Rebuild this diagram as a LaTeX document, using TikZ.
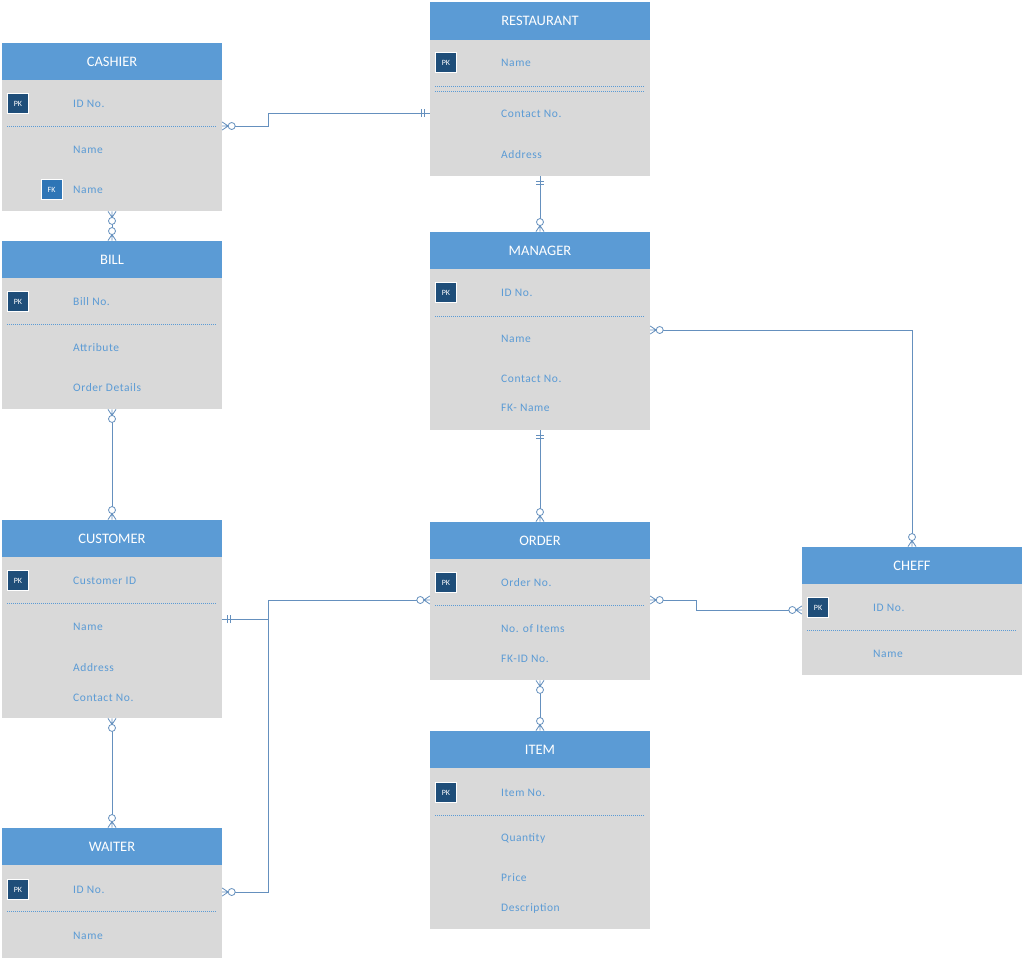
\documentclass[tikz,border=0pt]{standalone}
\usepackage{fontspec}
\setmainfont{Carlito}
\newfontfamily\attrfont{Carlito}[LetterSpace=5]
\usetikzlibrary{positioning}
\usetikzlibrary{arrows.meta}
\definecolor{hdrblue}{HTML}{5B9BD5}
\definecolor{bodygray}{HTML}{D9D9D9}
\definecolor{keynavy}{HTML}{1F4E79}
\definecolor{fkblue}{HTML}{2E75B6}
\definecolor{relline}{HTML}{6590BE}

% zero or many
\pgfdeclarearrow{
  name = crowopt,
  setup code = {
    \pgfarrowssettipend{0pt}
    \pgfarrowssetlineend{-13pt}
    \pgfarrowssetbackend{-13pt}
    \pgfarrowshullpoint{0pt}{4pt}
    \pgfarrowshullpoint{0pt}{-4pt}
    \pgfarrowshullpoint{-13pt}{0pt}
  },
  drawing code = {
    \pgfpathmoveto{\pgfpoint{0pt}{4pt}}
    \pgfpathlineto{\pgfpoint{-6pt}{0pt}}
    \pgfpathlineto{\pgfpoint{0pt}{-4pt}}
    \pgfpathmoveto{\pgfpoint{0pt}{0pt}}
    \pgfpathlineto{\pgfpoint{-6pt}{0pt}}
    \pgfusepathqstroke
    \pgfpathcircle{\pgfpoint{-9.5pt}{0pt}}{3.5pt}
    \pgfsetfillcolor{white}
    \pgfusepathqfillstroke
  }
}
% one and only one
\pgfdeclarearrow{
  name = onemand,
  setup code = {
    \pgfarrowssettipend{0pt}
    \pgfarrowssetlineend{0pt}
    \pgfarrowssetbackend{-9pt}
    \pgfarrowshullpoint{0pt}{4pt}
    \pgfarrowshullpoint{-9pt}{4pt}
    \pgfarrowshullpoint{-9pt}{-4pt}
    \pgfarrowshullpoint{0pt}{-4pt}
  },
  drawing code = {
    \pgfpathmoveto{\pgfpoint{-5pt}{4pt}}
    \pgfpathlineto{\pgfpoint{-5pt}{-4pt}}
    \pgfpathmoveto{\pgfpoint{-8pt}{4pt}}
    \pgfpathlineto{\pgfpoint{-8pt}{-4pt}}
    \pgfusepathqstroke
  }
}

\tikzset{
  entity/.style={fill=hdrblue, text=white, minimum width=220, minimum height=37.5,
    inner sep=0pt, font=\fontsize{14.5}{16}\selectfont},
  attrs/.style={fill=bodygray, minimum width=220, inner sep=0pt, anchor=north},
  attr/.style={anchor=west, text=hdrblue, inner sep=0pt, font=\attrfont\fontsize{11.5}{13}\selectfont},
  pkbox/.style={fill=keynavy, draw=white, line width=1pt, minimum width=21, minimum height=20,
    inner sep=0pt, text=white, font=\fontsize{8}{9}\selectfont},
  fkbox/.style={pkbox, fill=fkblue},
  keyline/.style={hdrblue, dash pattern=on 1pt off 1pt, line width=0.6pt},
  rel/.style={relline, line width=0.8pt},
}

\begin{document}
\begin{tikzpicture}[x=1pt,y=-1pt]
    \useasboundingbox[fill=white] (0,0) rectangle (1024,959);

    % CASHIER
    \node[attrs, minimum height=131] (cashierbody) at (112,80) {};
    \node[entity] (cashier) at (112,61.5) {CASHIER};
    \node[pkbox] (cashierpk) at (18,103.5) {PK};
    \node[attr] (cashierid) at (73,104) {ID No.};
    \draw[keyline] (7,126) -- (217,126);
    \node[attr] (cashiername) at (73,150) {Name};
    \node[fkbox] (cashierfk) at (51.5,189.5) {FK};
    \node[attr] (cashierfkname) at (73,190) {Name};

    % BILL
    \node[attrs, minimum height=131] (billbody) at (112,278) {};
    \node[entity] (bill) at (112,259.5) {BILL};
    \node[pkbox] (billpk) at (18,301.5) {PK};
    \node[attr] (billno) at (73,302) {Bill No.};
    \draw[keyline] (7,324) -- (217,324);
    \node[attr] (billattr) at (73,348) {Attribute};
    \node[attr] (billorder) at (73,388) {Order Details};

    % CUSTOMER
    \node[attrs, minimum height=161] (customerbody) at (112,557) {};
    \node[entity] (customer) at (112,538.5) {CUSTOMER};
    \node[pkbox] (customerpk) at (18,580.5) {PK};
    \node[attr] (customerid) at (73,581) {Customer ID};
    \draw[keyline] (7,603) -- (217,603);
    \node[attr] (customername) at (73,627) {Name};
    \node[attr] (customeraddr) at (73,668) {Address};
    \node[attr] (customercontact) at (73,698) {Contact No.};

    % WAITER
    \node[attrs, minimum height=93] (waiterbody) at (112,865) {};
    \node[entity] (waiter) at (112,846.5) {WAITER};
    \node[pkbox] (waiterpk) at (18,889.5) {PK};
    \node[attr] (waiterid) at (73,890) {ID No.};
    \draw[keyline] (7,911) -- (217,911);
    \node[attr] (waitername) at (73,936) {Name};

    % RESTAURANT
    \node[attrs, minimum height=136] (restaurantbody) at (540,40) {};
    \node[entity] (restaurant) at (540,21) {RESTAURANT};
    \node[pkbox] (restaurantpk) at (446,62.5) {PK};
    \node[attr] (restaurantname) at (501,63) {Name};
    \draw[keyline] (435,86) -- (645,86);
    \draw[keyline] (435,91) -- (645,91);
    \node[attr] (restaurantcontact) at (501,114) {Contact No.};
    \node[attr] (restaurantaddr) at (501,155) {Address};

    % MANAGER
    \node[attrs, minimum height=161] (managerbody) at (540,269) {};
    \node[entity] (manager) at (540,250.5) {MANAGER};
    \node[pkbox] (managerpk) at (446,292.5) {PK};
    \node[attr] (managerid) at (501,293) {ID No.};
    \draw[keyline] (435,316) -- (645,316);
    \node[attr] (managername) at (501,339) {Name};
    \node[attr] (managercontact) at (501,379) {Contact No.};
    \node[attr] (managerfk) at (501,408) {FK- Name};

    % ORDER
    \node[attrs, minimum height=121] (orderbody) at (540,559) {};
    \node[entity] (order) at (540,540.5) {ORDER};
    \node[pkbox] (orderpk) at (446,582.5) {PK};
    \node[attr] (orderno) at (501,583) {Order No.};
    \draw[keyline] (435,605) -- (645,605);
    \node[attr] (orderitems) at (501,629) {No. of Items};
    \node[attr] (orderfk) at (501,659) {FK-ID No.};

    % ITEM
    \node[attrs, minimum height=161] (itembody) at (540,768) {};
    \node[entity] (item) at (540,749.5) {ITEM};
    \node[pkbox] (itempk) at (446,792.5) {PK};
    \node[attr] (itemno) at (501,793) {Item No.};
    \draw[keyline] (435,815) -- (645,815);
    \node[attr] (itemqty) at (501,838) {Quantity};
    \node[attr] (itemprice) at (501,878) {Price};
    \node[attr] (itemdesc) at (501,908) {Description};

    % CHEFF
    \node[attrs, minimum height=91] (cheffbody) at (912,584) {};
    \node[entity] (cheff) at (912,565.5) {CHEFF};
    \node[pkbox] (cheffpk) at (818,607.5) {PK};
    \node[attr] (cheffid) at (873,608) {ID No.};
    \draw[keyline] (807,630) -- (1017,630);
    \node[attr] (cheffname) at (873,654) {Name};

    % relationships
    \coordinate (custjoin) at (268,619);
    \draw[rel, onemand-crowopt] (restaurantbody.west |- 0,113) -- (268,113) -- (268,126) -- (cashierbody.east |- 0,126);
    \draw[rel, crowopt-crowopt] (cashierbody.south) -- (bill.north);
    \draw[rel, onemand-crowopt] (restaurantbody.south) -- (manager.north);
    \draw[rel, crowopt-crowopt] (managerbody.east |- 0,330) -| (cheff.north);
    \draw[rel, crowopt-crowopt] (billbody.south) -- (customer.north);
    \draw[rel, onemand-crowopt] (managerbody.south) -- (order.north);
    \draw[rel, onemand-crowopt] (customerbody.east |- custjoin) -- (custjoin) |- (orderbody.west |- 0,600);
    \draw[rel, -crowopt] (custjoin) |- (waiterbody.east |- 0,892);
    \draw[rel, crowopt-crowopt] (orderbody.east |- 0,600) -- (696,600) |- (cheffbody.west |- 0,610);
    \draw[rel, crowopt-crowopt] (orderbody.south) -- (item.north);
    \draw[rel, crowopt-crowopt] (customerbody.south) -- (waiter.north);
\end{tikzpicture}
\end{document}
